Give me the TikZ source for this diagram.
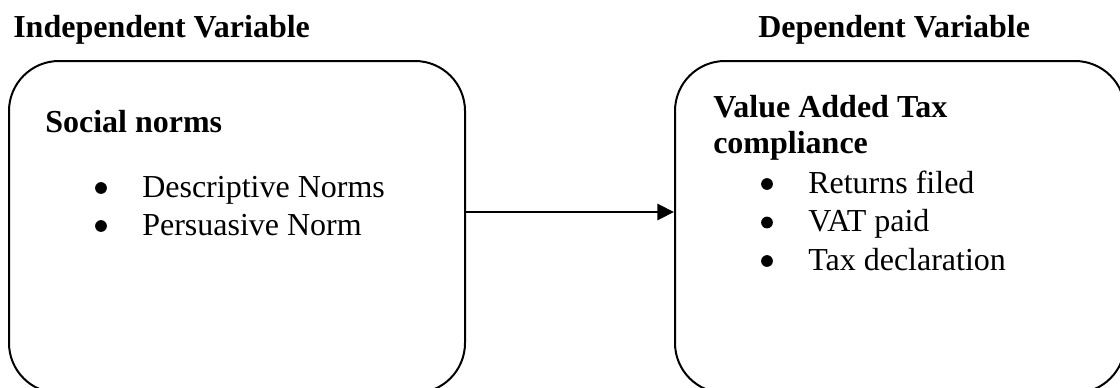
\documentclass[tikz,border=0pt]{standalone}
\usepackage{fontspec}
\setmainfont{Liberation Serif}
\usetikzlibrary{arrows.meta}
\begin{document}
\begin{tikzpicture}[x=0.75pt,y=-0.75pt,
  box/.style={draw=black,line width=1.5pt,rounded corners=37.5pt,inner sep=0pt},
  txt/.style={anchor=base west,inner sep=0pt,font=\fontsize{24pt}{28pt}\selectfont},
  bold/.style={txt,font=\fontsize{24pt}{28pt}\selectfont\bfseries},
  dot/.style={fill=black},
  link/.style={line width=2.2pt,-{Triangle[length=12.5pt,width=12pt]}}]
\useasboundingbox (0,0) rectangle (1120,387);
\clip (0,0) rectangle (1120,387);
% boxes
\node[box,minimum width=342pt,minimum height=249pt] (L) at (237,227) {};
\node[box,minimum width=337.5pt,minimum height=249pt] (R) at (900,227) {};
% headings
\node[bold] (h1) at (13,37) {Independent Variable};
\node[bold] (h2) at (758,37) {Dependent Variable};
% left content
\node[bold] (t1) at (45,132) {Social norms};
\fill[dot] (101,188) circle (4.4pt);
\node[txt] (l1) at (142,197) {Descriptive Norms};
\fill[dot] (101,226) circle (4.4pt);
\node[txt] (l2) at (142,235) {Persuasive Norm};
% right content
\node[bold] (t2) at (713,117) {Value Added Tax};
\node[bold] (t3) at (713,153) {compliance};
\fill[dot] (767,184) circle (4.4pt);
\node[txt] (r1) at (808,193) {Returns filed};
\fill[dot] (767,222.5) circle (4.4pt);
\node[txt] (r2) at (808,231.5) {VAT paid};
\fill[dot] (767,261) circle (4.4pt);
\node[txt] (r3) at (808,270) {Tax declaration};
% arrow
\coordinate (A) at (0,212);
\draw[link] (L.east|-A) -- (R.west|-A);
\end{tikzpicture}
\end{document}
